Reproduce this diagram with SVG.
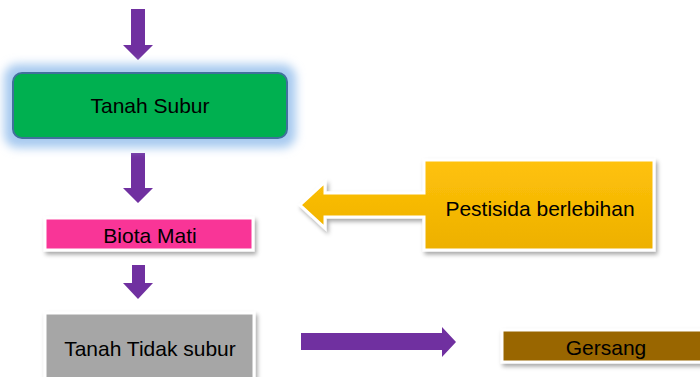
<svg xmlns="http://www.w3.org/2000/svg" width="700" height="377" viewBox="0 0 700 377">
<style>
.t{font-family:"Liberation Sans",Arial,sans-serif;font-size:21px;fill:#000;text-anchor:middle}
.arr{fill:#7030A0}
.frame{stroke:#fff;stroke-width:3}
</style>
<defs>
<filter id="glow" x="-20%" y="-50%" width="140%" height="200%"><feGaussianBlur stdDeviation="5"/></filter>
<filter id="sh" x="-10%" y="-20%" width="125%" height="150%"><feDropShadow dx="2" dy="3" stdDeviation="2" flood-color="#000" flood-opacity="0.35"/></filter>
<linearGradient id="gy" x1="0" y1="0" x2="0" y2="1"><stop offset="0" stop-color="#FFC20A"/><stop offset="1" stop-color="#EDB000"/></linearGradient>
</defs>
<rect width="700" height="377" fill="#fff"/>
<g id="connectors">
<polygon class="arr" points="131,9 145,9 145,45 153,45 138,60 123,45 131,45"/>
<polygon class="arr" points="131,153 145,153 145,188 153,188 138,203 123,188 131,188"/>
<polygon class="arr" points="132,265 145,265 145,283 153,283 138,299 123,283 132,283"/>
<polygon class="arr" points="301,333 442,333 442,327 456,342 442,357 442,350 301,350"/>
</g>
<g id="tanah-subur">
<rect x="4" y="64" width="292" height="84" rx="14" fill="#A9CBF0" filter="url(#glow)"/>
<rect x="13" y="73" width="274" height="65" rx="9" fill="#00B050" stroke="#41719C" stroke-width="2"/>
<text class="t" x="150" y="113">Tanah Subur</text>
</g>
<g id="pestisida">
<g filter="url(#sh)">
<path class="frame" d="M424,160 H654 V250 H424 V217 H325 V228 L300,205 L325,182 V193 H424 Z" fill="url(#gy)"/>
</g>
<text class="t" x="540" y="216">Pestisida berlebihan</text>
</g>
<g id="biota-mati">
<rect class="frame" x="45" y="218" width="208" height="32" fill="#F93497" filter="url(#sh)"/>
<text class="t" x="150" y="243">Biota Mati</text>
</g>
<g id="tanah-tidak-subur">
<rect class="frame" x="45" y="313" width="209" height="70" fill="#A6A6A6" filter="url(#sh)"/>
<text class="t" x="150" y="356">Tanah Tidak subur</text>
</g>
<g id="gersang">
<rect class="frame" x="502" y="330" width="210" height="32" fill="#996600" filter="url(#sh)"/>
<text class="t" x="606" y="355">Gersang</text>
</g>
</svg>
